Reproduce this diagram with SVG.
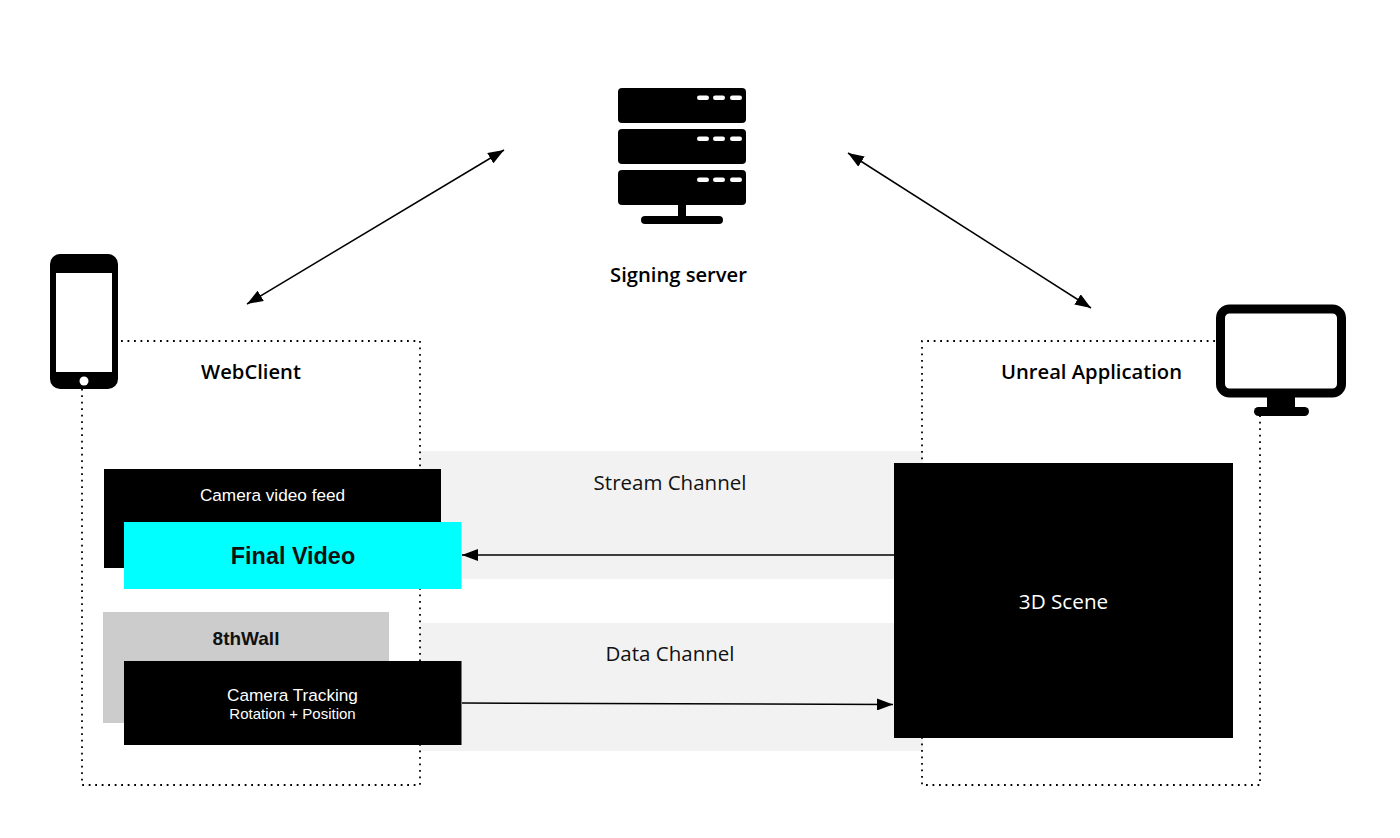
<svg xmlns="http://www.w3.org/2000/svg" width="1400" height="838" viewBox="0 0 1400 838">
<defs>
<marker id="ah" markerUnits="userSpaceOnUse" markerWidth="18" markerHeight="12" refX="16" refY="6" orient="auto-start-reverse"><path d="M0 0L16 6L0 12Z" fill="#000"/></marker>
</defs>
<style>
.t{font-family:"Liberation Sans",Arial,sans-serif}
.o{font-family:"Open Sans","Noto Sans",sans-serif}
.dot{fill:none;stroke:#000;stroke-width:1.800;stroke-dasharray:1.800 4.700}
.c{stroke:#000;stroke-width:1.500;fill:none}
</style>
<rect width="1400" height="838" fill="#fff"/>
<g id="channels">
<rect x="420" y="451" width="503" height="128" fill="#f2f2f2"/>
<rect x="420" y="623" width="503" height="128" fill="#f2f2f2"/>
<text class="o" x="670" y="490" font-size="20.500" text-anchor="middle" fill="#111">Stream Channel</text>
<text class="o" x="670" y="661" font-size="20.500" text-anchor="middle" fill="#111">Data Channel</text>
</g>
<g id="webclient-box">
<path class="dot" d="M121 341H420V785H82V389"/>
<text class="o" x="251" y="379" font-size="20.200" font-weight="600" text-anchor="middle">WebClient</text>
</g>
<g id="unreal-box">
<path class="dot" d="M1215 341H922V785H1260V416"/>
<text class="o" x="1091.500" y="379" font-size="20.200" font-weight="600" text-anchor="middle">Unreal Application</text>
</g>
<g id="server">
<rect x="618" y="88" width="128" height="35" rx="4"/>
<rect x="618" y="129" width="128" height="35" rx="4"/>
<rect x="618" y="170" width="128" height="35" rx="4"/>
<g fill="#fff">
<rect x="697" y="95.500" width="12" height="4.500" rx="2.200"/><rect x="713" y="95.500" width="12" height="4.500" rx="2.200"/><rect x="730" y="95.500" width="12" height="4.500" rx="2.200"/>
<rect x="697" y="136.500" width="12" height="4.500" rx="2.200"/><rect x="713" y="136.500" width="12" height="4.500" rx="2.200"/><rect x="730" y="136.500" width="12" height="4.500" rx="2.200"/>
<rect x="697" y="177.500" width="12" height="4.500" rx="2.200"/><rect x="713" y="177.500" width="12" height="4.500" rx="2.200"/><rect x="730" y="177.500" width="12" height="4.500" rx="2.200"/>
</g>
<rect x="678" y="205" width="8" height="12"/>
<rect x="641" y="216" width="82" height="8" rx="4"/>
<text class="o" x="678.500" y="282" font-size="20.200" font-weight="600" text-anchor="middle">Signing server</text>
</g>
<g id="phone">
<rect x="50" y="254" width="68" height="135" rx="10"/>
<rect x="56" y="273" width="56" height="99" fill="#fff"/>
<circle cx="84" cy="381" r="4.500" fill="#fff"/>
</g>
<g id="monitor">
<rect x="1220.500" y="309" width="121" height="84" rx="9" fill="#fff" stroke="#000" stroke-width="9"/>
<rect x="1267" y="397" width="28" height="12"/>
<rect x="1254" y="407" width="55" height="9" rx="4.500"/>
</g>
<g id="camera-feed">
<rect x="104" y="469" width="337" height="99"/>
<text class="t" x="272.500" y="501" font-size="17.200" fill="#fff" text-anchor="middle">Camera video feed</text>
</g>
<g id="final-video">
<rect x="124" y="522" width="337.500" height="67" fill="#00ffff"/>
<text class="t" x="293" y="564" font-size="23.400" font-weight="700" text-anchor="middle" fill="#111">Final Video</text>
</g>
<g id="eighth-wall">
<rect x="103" y="612" width="286" height="111" fill="#cccccc"/>
<text class="t" x="246" y="645" font-size="19" font-weight="700" text-anchor="middle" fill="#111">8thWall</text>
</g>
<g id="camera-tracking">
<rect x="124" y="661" width="337.500" height="84"/>
<text class="t" x="292.500" y="701" font-size="17.200" fill="#fff" text-anchor="middle">Camera Tracking</text>
<text class="t" x="292.500" y="719" font-size="15" fill="#fff" text-anchor="middle">Rotation + Position</text>
</g>
<g id="scene">
<rect x="894" y="463" width="339" height="275"/>
<text class="o" x="1063.500" y="609" font-size="20.700" fill="#fff" text-anchor="middle">3D Scene</text>
</g>
<g id="connectors">
<line class="c" x1="247" y1="304" x2="504" y2="150" marker-start="url(#ah)" marker-end="url(#ah)"/>
<line class="c" x1="848" y1="153" x2="1091" y2="308" marker-start="url(#ah)" marker-end="url(#ah)"/>
<line class="c" x1="894" y1="555" x2="462" y2="555" marker-end="url(#ah)"/>
<line class="c" x1="462" y1="703" x2="893" y2="704.500" marker-end="url(#ah)"/>
</g>
</svg>
